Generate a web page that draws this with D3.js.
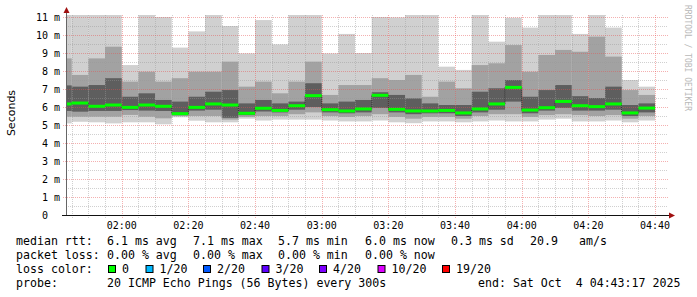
<!DOCTYPE html>
<html>
<head>
<meta charset="utf-8">
<script src="https://cdn.jsdelivr.net/npm/d3@7"></script>
<style>
  body { margin: 0; background: #fff; }
  svg { display: block; }
  text { white-space: pre; }
</style>
</head>
<body>
<script>
// 5 minute steps (end time of each step)
var stepEnds = ['01:45','01:50','01:55','02:00','02:05','02:10','02:15','02:20','02:25','02:30',
  '02:35','02:40','02:45','02:50','02:55','03:00','03:05','03:10','03:15','03:20',
  '03:25','03:30','03:35','03:40','03:45','03:50','03:55','04:00','04:05','04:10',
  '04:15','04:20','04:25','04:30','04:35','04:40'];

// values in ms
var medians   = [6.17,6.22,6.04,6.11,5.98,6.11,6.04,5.63,5.98,6.17,6.11,5.65,5.93,5.81,6.07,6.63,5.85,5.78,
                 5.89,6.65,5.87,5.78,5.78,5.81,5.67,5.89,6.17,7.09,5.83,5.96,6.31,6.07,6.02,6.17,5.67,5.94];
var pingMax   = [11.4,11.4,11.4,11.4,8.33,11.4,11.0,9.3,10.2,11.4,10.5,8.98,10.83,9.48,11.4,11.4,8.98,10.06,
                 9.0,11.0,10.98,11.4,11.4,8.24,8.06,11.4,9.63,10.96,10.41,11.4,11.4,10.06,11.4,10.41,7.5,7.13];
var upperMid  = [8.7,7.78,8.7,9.35,7.41,7.96,7.41,7.6,7.96,7.96,8.52,7.13,7.41,6.76,7.41,8.52,6.67,7.22,
                 7.22,7.6,7.5,7.78,6.57,7.41,7.04,8.33,8.43,9.44,7.96,8.89,9.17,9.07,9.91,8.8,6.94,6.67];
var upperCore = [7.2,7.13,7.22,7.6,6.57,6.76,6.39,6.3,6.57,6.85,6.94,6.2,6.39,6.2,6.3,7.32,6.2,6.3,
                 6.39,6.82,6.67,6.48,6.2,6.11,6.11,6.85,7.04,7.5,6.57,6.94,7.22,6.6,6.5,7.13,6.11,6.2];
var lowerCore = [5.78,5.74,5.78,5.78,5.83,5.8,5.78,5.55,5.8,5.85,5.4,5.55,5.75,5.7,5.85,6.0,5.7,5.65,
                 5.7,5.95,5.7,5.6,5.65,5.65,5.5,5.7,5.85,6.3,5.65,5.8,5.95,5.8,5.8,5.85,5.5,5.7];
var lowerMid  = [5.46,5.46,5.46,5.46,5.56,5.46,5.37,5.5,5.5,5.5,5.3,5.45,5.5,5.5,5.6,5.7,5.5,5.45,
                 5.5,5.6,5.45,5.35,5.45,5.45,5.35,5.5,5.6,5.6,5.45,5.55,5.6,5.55,5.5,5.55,5.35,5.5];
var pingMin   = [5.09,5.18,5.15,5.09,5.15,5.15,5.04,5.43,5.24,5.15,5.15,5.35,5.25,5.3,5.3,5.3,5.25,5.2,
                 5.2,5.25,5.15,5.1,5.2,5.2,5.15,5.2,5.25,5.2,5.2,5.3,5.35,5.2,5.2,5.25,5.15,5.25];

var yTicks = [0,1,2,3,4,5,6,7,8,9,10,11];
var xTickLabels = ['02:00','02:20','02:40','03:00','03:20','03:40','04:00','04:20','04:40'];

var legendRtt  = ['6.1 ms avg','7.1 ms max','5.7 ms min','6.0 ms now','0.3 ms sd','20.9','am/s'];
var legendLoss = ['0.00 % avg','0.00 % max','0.00 % min','0.00 % now'];
var lossLabels = ['0','1/20','2/20','3/20','4/20','10/20','19/20'];
var lossColors = ['#00ff00','#00b8ff','#0059ff','#5e00ff','#7e00ff','#dd00ff','#ff0000'];
var probeText = '20 ICMP Echo Pings (56 Bytes) every 300s';
var endText = 'end: Sat Oct  4 04:43:17 2025';

var w = 697, h = 297;
var parseT = d3.timeParse('%H:%M:%S');
var endTime = parseT('04:43:17');
var startTime = new Date(endTime.getTime() - 3 * 3600 * 1000);
var mono = 'DejaVu Sans Mono, monospace';

var svg = d3.select('body').append('svg')
  .attr('width', w)
  .attr('height', h);

var xScale = d3.scaleTime()
  .domain([startTime, endTime])
  .range([66, 666]);

var yScale = d3.scaleLinear()
  .domain([0, 200 / 18])
  .range([215, 15]);

svg.append('clipPath').attr('id', 'plot')
  .append('rect')
  .attr('x', 66).attr('y', 15)
  .attr('width', 600).attr('height', 200);

var bars = stepEnds.map(function(s, i){
  var t1 = parseT(s + ':00');
  return {
    t0: new Date(t1.getTime() - 300000), t1: t1,
    med: medians[i], max: pingMax[i], um: upperMid[i], uc: upperCore[i],
    lc: lowerCore[i], lm: lowerMid[i], min: pingMin[i]
  };
});

var smoke = svg.append('g').attr('clip-path', 'url(#plot)');

var bands = [
  {lo: 'min', hi: 'max', color: '#d0d0d0'},
  {lo: 'lm', hi: 'um', color: '#a2a2a2'},
  {lo: 'lc', hi: 'uc', color: '#5e5e5e'}
];

bands.forEach(function(b){
  smoke.selectAll(null)
    .data(bars)
    .enter()
    .append('rect')
    .attr('x', function(d){ return xScale(d.t0); })
    .attr('width', function(d){ return xScale(d.t1) - xScale(d.t0); })
    .attr('y', function(d){ return yScale(d[b.hi]); })
    .attr('height', function(d){ return yScale(d[b.lo]) - yScale(d[b.hi]); })
    .attr('fill', b.color);
});

// grid on top of the smoke
var grid = svg.append('g');
var minorY = d3.range(0, 11.5, 0.5).filter(function(v){ return v % 1 !== 0; });
grid.selectAll(null).data(minorY).enter().append('line')
  .attr('x1', 66).attr('x2', 668)
  .attr('y1', function(d){ return Math.round(yScale(d)) + 0.5; })
  .attr('y2', function(d){ return Math.round(yScale(d)) + 0.5; })
  .attr('stroke', 'rgba(150,150,150,0.45)').attr('stroke-dasharray', '1,1');

var minorX = d3.timeMinute.every(5).range(startTime, endTime);
grid.selectAll(null).data(minorX).enter().append('line')
  .attr('x1', function(d){ return Math.round(xScale(d)) + 0.5; })
  .attr('x2', function(d){ return Math.round(xScale(d)) + 0.5; })
  .attr('y1', 15).attr('y2', 218)
  .attr('stroke', function(d){ return d.getMinutes() % 20 === 0 ? 'rgba(230,80,80,0.45)' : 'rgba(150,150,150,0.45)'; })
  .attr('stroke-dasharray', '1,1');

grid.selectAll(null).data(yTicks.slice(1)).enter().append('line')
  .attr('x1', 63).attr('x2', 668)
  .attr('y1', function(d){ return Math.round(yScale(d)) + 0.5; })
  .attr('y2', function(d){ return Math.round(yScale(d)) + 0.5; })
  .attr('stroke', 'rgba(230,80,80,0.45)').attr('stroke-dasharray', '1,1');

// median line
var medLayer = svg.append('g').attr('clip-path', 'url(#plot)');
var stepLine = d3.line()
  .x(function(d){ return d[0]; })
  .y(function(d){ return d[1]; });
var stepPts = [];
bars.forEach(function(d){
  stepPts.push([xScale(d.t0), yScale(d.med)]);
  stepPts.push([xScale(d.t1), yScale(d.med)]);
});
medLayer.append('path')
  .attr('d', stepLine(stepPts))
  .attr('fill', 'none')
  .attr('stroke', '#222')
  .attr('stroke-width', 1)
  .attr('stroke-dasharray', '1,1');
medLayer.selectAll(null)
  .data(bars)
  .enter()
  .append('rect')
  .attr('x', function(d){ return xScale(d.t0); })
  .attr('width', function(d){ return xScale(d.t1) - xScale(d.t0); })
  .attr('y', function(d){ return yScale(d.med) - 1.5; })
  .attr('height', 3)
  .attr('fill', lossColors[0]);

// axes
svg.append('line')
  .attr('x1', 66.5).attr('x2', 66.5).attr('y1', 215).attr('y2', 12)
  .attr('stroke', '#666');
svg.append('line')
  .attr('x1', 62).attr('x2', 671).attr('y1', 215.5).attr('y2', 215.5)
  .attr('stroke', '#111');
svg.append('path').attr('d', 'M63.5,13 L66.5,7 L69.5,13 Z').attr('fill', '#a01010');
svg.append('path').attr('d', 'M669,212.5 L675,215.5 L669,218.5 Z').attr('fill', '#a01010');

// y labels
var yLab = svg.append('g')
  .attr('font-family', mono).attr('font-size', '10px').attr('fill', '#000');
yLab.selectAll(null).data(yTicks).enter().append('text')
  .attr('x', 48).attr('y', function(d){ return yScale(d) + 3.5; })
  .attr('text-anchor', 'end')
  .text(function(d){ return d; });
yLab.selectAll(null).data(yTicks.slice(1)).enter().append('text')
  .attr('x', 54).attr('y', function(d){ return yScale(d) + 3.5; })
  .text('m');

// x labels
svg.append('g')
  .attr('font-family', mono).attr('font-size', '10px').attr('fill', '#000')
  .selectAll(null).data(xTickLabels).enter().append('text')
  .attr('x', function(d){ return xScale(parseT(d + ':00')); })
  .attr('y', 229)
  .attr('text-anchor', 'middle')
  .text(function(d){ return d; });

svg.append('text')
  .attr('transform', 'translate(15,113) rotate(-90)')
  .attr('text-anchor', 'middle')
  .attr('font-family', 'DejaVu Sans, sans-serif')
  .attr('font-size', '11px')
  .text('Seconds');

svg.append('text')
  .attr('transform', 'translate(685,5) rotate(90)')
  .attr('font-family', mono)
  .attr('font-size', '8px')
  .attr('fill', '#b8b8b8')
  .text('RRDTOOL / TOBI OETIKER');

// legend
var leg = svg.append('g')
  .attr('font-family', mono).attr('font-size', '11.6px').attr('fill', '#000');
var colX = [107, 193, 278, 365, 451, 530, 579];

leg.append('text').attr('x', 16).attr('y', 245).text('median rtt:');
leg.selectAll(null).data(legendRtt).enter().append('text')
  .attr('x', function(d, i){ return colX[i]; }).attr('y', 245)
  .text(function(d){ return d; });

leg.append('text').attr('x', 16).attr('y', 259).text('packet loss:');
leg.selectAll(null).data(legendLoss).enter().append('text')
  .attr('x', function(d, i){ return colX[i]; }).attr('y', 259)
  .text(function(d){ return d; });

leg.append('text').attr('x', 16).attr('y', 273).text('loss color:');
var boxX = [108, 145.5, 203, 261.5, 319, 377.5, 442];
leg.selectAll(null).data(lossColors).enter().append('rect')
  .attr('x', function(d, i){ return boxX[i] + 0.5; }).attr('y', 265.5)
  .attr('width', 7).attr('height', 7)
  .attr('fill', function(d){ return d; })
  .attr('stroke', '#000');
leg.selectAll(null).data(lossLabels).enter().append('text')
  .attr('x', function(d, i){ return boxX[i] + 14; }).attr('y', 273)
  .text(function(d){ return d; });

leg.append('text').attr('x', 16).attr('y', 287).text('probe:');
leg.append('text').attr('x', 107).attr('y', 287).text(probeText);
leg.append('text').attr('x', 478).attr('y', 287).text(endText);
</script>
</body>
</html>
